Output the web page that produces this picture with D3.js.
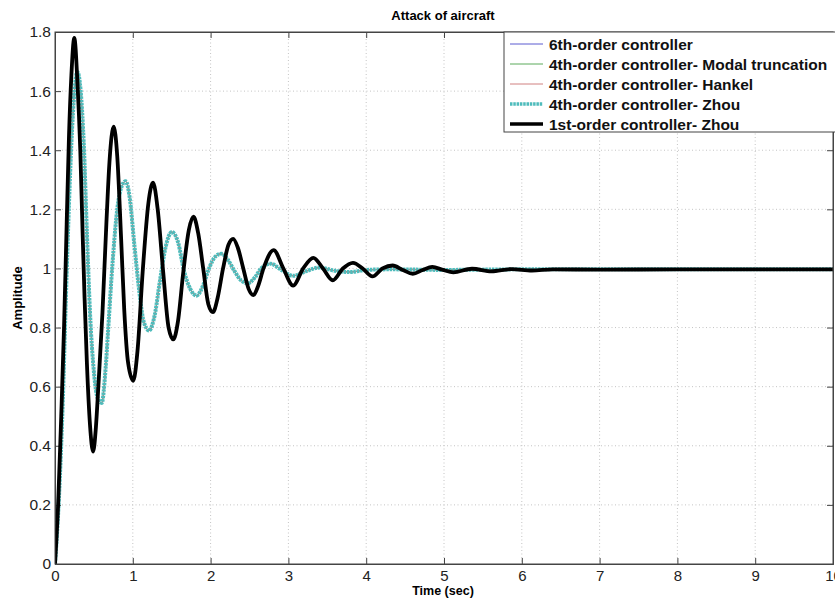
<!DOCTYPE html>
<html lang="en">
<head>
<meta charset="UTF-8">
<title>Attack of aircraft</title>
<script src="https://cdn.jsdelivr.net/npm/d3@7"></script>
<style>
  body { margin: 0; background: #fff; }
  svg { font-family: "Liberation Sans", Arial, sans-serif; }
</style>
</head>
<body>
<div id="chart"></div>
<script>
// Time axis ticks / amplitude ticks
var xTicks = [0, 1, 2, 3, 4, 5, 6, 7, 8, 9, 10];
var yTicks = [0, 0.2, 0.4, 0.6, 0.8, 1, 1.2, 1.4, 1.6, 1.8];

// 1st-order controller - Zhou (black)
var firstTime = [0, 0.04, 0.08, 0.116, 0.15, 0.18, 0.21, 0.248, 0.29, 0.325, 0.355, 0.38, 0.41, 0.45, 0.49,
  0.525, 0.557, 0.61, 0.66, 0.70, 0.754, 0.80, 0.85, 0.89, 0.94, 1.006, 1.06, 1.13, 1.20, 1.26,
  1.32, 1.39, 1.46, 1.52, 1.58, 1.65, 1.72, 1.78, 1.84, 1.905, 1.97, 2.03, 2.09, 2.16, 2.23, 2.29,
  2.35, 2.42, 2.49, 2.55, 2.61, 2.68, 2.81, 2.935, 3.06, 3.19, 3.32, 3.445, 3.57, 3.70, 3.83,
  3.955, 4.08, 4.21, 4.34, 4.47, 4.6, 4.725, 4.85, 4.985, 5.12, 5.36, 5.61, 5.87, 6.13, 6.4, 7, 8, 10];
var firstAmp = [0, 0.2, 0.5, 0.8, 1.15, 1.45, 1.65, 1.78, 1.62, 1.4, 1.12, 0.9, 0.68, 0.47, 0.38,
  0.46, 0.6, 0.85, 1.15, 1.36, 1.48, 1.38, 1.1, 0.86, 0.68, 0.62, 0.72, 1.0, 1.22, 1.29,
  1.2, 0.99, 0.8, 0.76, 0.82, 0.99, 1.13, 1.175, 1.12, 1.0, 0.88, 0.852, 0.9, 1.0, 1.08, 1.1,
  1.07, 1.0, 0.93, 0.91, 0.94, 1.0, 1.062, 1.0, 0.942, 1.0, 1.036, 1.0, 0.96, 1.0, 1.019,
  1.0, 0.973, 1.0, 1.01, 0.995, 0.982, 0.995, 1.005, 0.995, 0.987, 0.999, 0.99, 0.998, 0.993, 0.997, 0.996, 0.997, 0.997];

// 4th-order controller - Zhou (teal)
var zhouTime = [0, 0.05, 0.1, 0.14, 0.18, 0.21, 0.25, 0.287, 0.33, 0.37, 0.41, 0.45, 0.5, 0.55, 0.6,
  0.65, 0.685, 0.74, 0.8, 0.86, 0.908, 0.96, 1.02, 1.08, 1.14, 1.21, 1.28, 1.35, 1.42, 1.5,
  1.58, 1.66, 1.74, 1.82, 1.9, 1.98, 2.06, 2.14, 2.22, 2.31, 2.39, 2.48, 2.57, 2.65, 2.77,
  2.91, 3.06, 3.22, 3.4, 3.6, 3.8, 4.0, 4.3, 5, 6, 10];
var zhouAmp = [0, 0.22, 0.55, 0.9, 1.22, 1.42, 1.6, 1.665, 1.6, 1.42, 1.12, 0.85, 0.65, 0.56, 0.545,
  0.66, 0.8, 1.02, 1.2, 1.28, 1.295, 1.24, 1.08, 0.93, 0.82, 0.79, 0.84, 0.96, 1.07, 1.123,
  1.09, 0.99, 0.93, 0.908, 0.94, 1.0, 1.04, 1.05, 1.03, 0.99, 0.96, 0.95, 0.97, 1.0, 1.016,
  0.995, 0.975, 0.99, 1.003, 0.992, 0.988, 0.995, 0.997, 0.995, 0.997, 0.997];

// the other three reduced controllers lie underneath the Zhou curve
var sixthAmp = zhouAmp.slice();
var modalAmp = zhouAmp.slice();
var hankelAmp = zhouAmp.slice();

var legendLabels = ["6th-order controller", "4th-order controller- Modal truncation",
  "4th-order controller- Hankel", "4th-order controller- Zhou", "1st-order controller- Zhou"];

var W = 835, H = 598;
var pLeft = 55, pRight = 833, pTop = 32, pBottom = 564;

var svg = d3.select("#chart").append("svg")
  .attr("width", W).attr("height", H);

var x = d3.scaleLinear().domain([0, 10]).range([pLeft, pRight]);
var y = d3.scaleLinear().domain([0, 1.8]).range([pBottom, pTop]);

// grid
var grid = svg.append("g").attr("stroke", "#c4c4c4").attr("stroke-dasharray", "1,2.5");
grid.selectAll(".gx").data(xTicks.slice(1, -1)).enter().append("line")
  .attr("x1", function (d) { return x(d); }).attr("x2", function (d) { return x(d); })
  .attr("y1", pTop).attr("y2", pBottom);
grid.selectAll(".gy").data(yTicks.slice(1, -1)).enter().append("line")
  .attr("y1", function (d) { return y(d); }).attr("y2", function (d) { return y(d); })
  .attr("x1", pLeft).attr("x2", pRight);

// axes with inward ticks
var axColor = "#444";
svg.append("g").attr("transform", "translate(0," + pBottom + ")")
  .style("color", axColor)
  .call(d3.axisBottom(x).tickValues(xTicks).tickSize(-6).tickPadding(6).tickFormat(d3.format("d")))
  .call(function (g) { g.selectAll("text").attr("fill", "#222").style("font-size", "15px"); });
svg.append("g").attr("transform", "translate(" + pLeft + ",0)")
  .style("color", axColor)
  .call(d3.axisLeft(y).tickValues(yTicks).tickSize(-6).tickPadding(4).tickFormat(function (d) { return d3.format("~g")(d); }))
  .call(function (g) { g.selectAll("text").attr("fill", "#222").style("font-size", "15.5px"); });
svg.append("g").attr("transform", "translate(0," + pTop + ")")
  .style("color", axColor)
  .call(d3.axisTop(x).tickValues(xTicks).tickSize(-6).tickFormat(""));
svg.append("g").attr("transform", "translate(" + pRight + ",0)")
  .style("color", axColor)
  .call(d3.axisRight(y).tickValues(yTicks).tickSize(-6).tickFormat(""));

// curves
svg.append("clipPath").attr("id", "clip").append("rect")
  .attr("x", pLeft).attr("y", pTop - 4).attr("width", pRight - pLeft).attr("height", pBottom - pTop + 6);

var plot = svg.append("g").attr("clip-path", "url(#clip)");

function lineFor(times) {
  return d3.line()
    .x(function (d, i) { return x(times[i]); })
    .y(function (d) { return y(d); })
    .curve(d3.curveMonotoneX);
}

var series = [
  { amp: sixthAmp, times: zhouTime, color: "#5a5ad0", width: 1, dash: null },
  { amp: modalAmp, times: zhouTime, color: "#5aaa5a", width: 1, dash: null },
  { amp: hankelAmp, times: zhouTime, color: "#d08080", width: 1, dash: null },
  { amp: zhouAmp, times: zhouTime, color: "#4fbcbc", width: 4, dash: "2.5,0.8" },
  { amp: firstAmp, times: firstTime, color: "#000", width: 3.8, dash: null }
];

series.forEach(function (s) {
  plot.append("path")
    .attr("d", lineFor(s.times)(s.amp))
    .attr("fill", "none")
    .attr("stroke", s.color)
    .attr("stroke-width", s.width)
    .attr("stroke-dasharray", s.dash)
    .attr("stroke-linejoin", "round");
});

// frame
svg.append("rect").attr("x", pLeft).attr("y", pTop)
  .attr("width", pRight - pLeft).attr("height", pBottom - pTop)
  .attr("fill", "none").attr("stroke", axColor);

// legend
var lg = svg.append("g");
lg.append("rect").attr("x", 504).attr("y", pTop).attr("width", 340).attr("height", 100)
  .attr("fill", "#fff").attr("stroke", axColor);
series.forEach(function (s, i) {
  var yy = 44 + i * 20;
  lg.append("line").attr("x1", 510).attr("x2", 543).attr("y1", yy).attr("y2", yy)
    .attr("stroke", s.color).attr("stroke-width", Math.min(s.width, 3.5))
    .attr("stroke-dasharray", s.dash);
  lg.append("text").attr("x", 549).attr("y", yy).attr("dy", "0.36em")
    .style("font-size", "15.5px").style("font-weight", "bold").attr("fill", "#111")
    .text(legendLabels[i]);
});

// titles
svg.append("text").attr("x", 443).attr("y", 20).attr("text-anchor", "middle")
  .style("font-size", "13px").style("font-weight", "bold").text("Attack of aircraft");
svg.append("text").attr("x", 443).attr("y", 595).attr("text-anchor", "middle")
  .style("font-size", "12.5px").style("font-weight", "bold").text("Time (sec)");
svg.append("text").attr("transform", "translate(22," + ((pTop + pBottom) / 2) + ") rotate(-90)")
  .attr("text-anchor", "middle")
  .style("font-size", "13px").style("font-weight", "bold").text("Amplitude");
</script>
</body>
</html>
